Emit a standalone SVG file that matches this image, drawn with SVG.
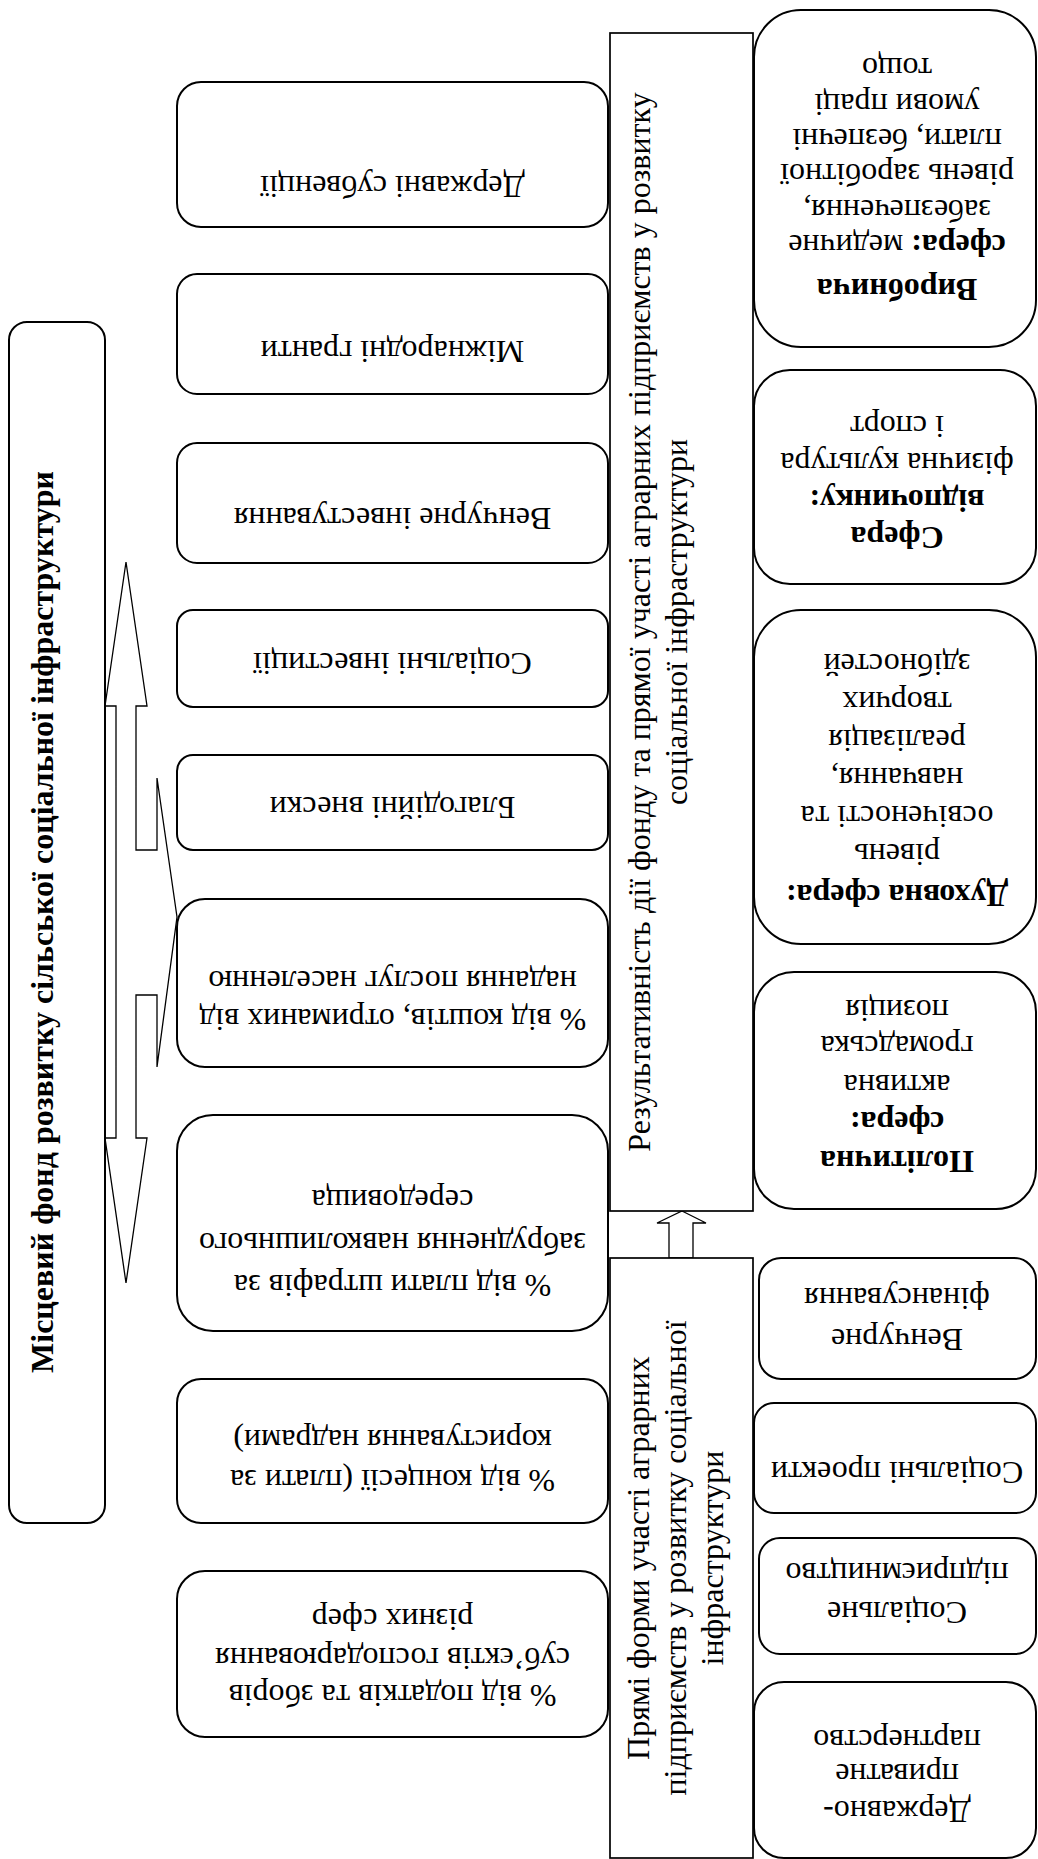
<svg xmlns="http://www.w3.org/2000/svg" width="1038" height="1859" viewBox="0 0 1038 1859">
<style>
.bg{fill:#fff}
.box{fill:#fff;stroke:#000;stroke-width:2}
.rect{fill:#fff;stroke:#000;stroke-width:1.7}
.arr{fill:#fff;stroke:#000;stroke-width:1.3;stroke-linejoin:miter}
text{font-family:'Liberation Serif','Times New Roman',serif;font-size:32px;fill:#000}
.c{text-anchor:middle}
.b{font-weight:bold}
</style>
<rect class="bg" x="0" y="0" width="1038" height="1859"/>

<g id="connectors">
<path class="arr" d="M126,562 L147,706 L136,706 L136,850 L157,850 L157,778 L177,917 L157,1067 L157,995 L136,995 L136,1138 L147,1138 L126,1283 L105,1138 L116,1138 L116,706 L105,706 Z"/>
<path class="arr" d="M682,1211 L706,1223 L693,1223 L693,1258 L669,1258 L669,1223 L657,1223 Z"/>
</g>

<g id="fund">
<rect class="box" x="9" y="322" width="96" height="1201" rx="18"/>
<text class="c b" transform="translate(53 922) rotate(-90)" x="0" y="0">Місцевий фонд розвитку  сільської соціальної інфраструктури</text>
</g>

<g id="n1"><rect class="box" x="177" y="82" width="431" height="145" rx="24"/>
<text class="c" transform="rotate(180 392.5 154.5)"><tspan x="392.5" y="133">Державні субвенції</tspan></text></g>
<g id="n2"><rect class="box" x="177" y="274" width="431" height="120" rx="20"/>
<text class="c" transform="rotate(180 392.5 334)"><tspan x="392.5" y="327">Міжнародні гранти</tspan></text></g>
<g id="n3"><rect class="box" x="177" y="443" width="431" height="120" rx="20"/>
<text class="c" transform="rotate(180 392.5 503)"><tspan x="392.5" y="498">Венчурне інвестування</tspan></text></g>
<g id="n4"><rect class="box" x="177" y="610" width="431" height="97" rx="16"/>
<text class="c" transform="rotate(180 392.5 658.5)"><tspan x="392.5" y="664">Соціальні інвестиції</tspan></text></g>
<g id="n5"><rect class="box" x="177" y="755" width="431" height="95" rx="16"/>
<text class="c" transform="rotate(180 392.5 802.5)"><tspan x="392.5" y="808">Благодійні внески</tspan></text></g>
<g id="n6"><rect class="box" x="177" y="899" width="431" height="168" rx="28"/>
<text class="c" transform="rotate(180 392.5 983)"><tspan x="392.5" y="957">% від коштів, отриманих від</tspan><tspan x="392.5" y="995">надання послуг населенню</tspan></text></g>
<g id="n7"><rect class="box" x="177" y="1115" width="431" height="216" rx="36"/>
<text class="c" transform="rotate(180 392.5 1223)"><tspan x="392.5" y="1171">% від плати штрафів за</tspan><tspan x="392.5" y="1213">забруднення навколишнього</tspan><tspan x="392.5" y="1256">середовища</tspan></text></g>
<g id="n8"><rect class="box" x="177" y="1379" width="431" height="144" rx="24"/>
<text class="c" transform="rotate(180 392.5 1451)"><tspan x="392.5" y="1432">% від концесії (плати за</tspan><tspan x="392.5" y="1472">користування надрами)</tspan></text></g>
<g id="n9"><rect class="box" x="177" y="1571" width="431" height="166" rx="28"/>
<text class="c" transform="rotate(180 392.5 1654)"><tspan x="392.5" y="1623">% від податків та зборів</tspan><tspan x="392.5" y="1660">суб’єктів господарювання</tspan><tspan x="392.5" y="1699">різних сфер</tspan></text></g>

<g id="result">
<rect class="rect" x="610" y="33" width="143" height="1178"/>
<text class="c" transform="translate(650 622) rotate(-90)"><tspan x="0" y="0">Результативність дії фонду та прямої участі аграрних підприємств у розвитку</tspan><tspan x="0" y="37">соціальної інфраструктури</tspan></text>
</g>
<g id="direct">
<rect class="rect" x="610" y="1258" width="143" height="600"/>
<text class="c" transform="translate(649 1558) rotate(-90)"><tspan x="0" y="0">Прямі форми участі аграрних</tspan><tspan x="0" y="37">підприємств у розвитку соціальної</tspan><tspan x="0" y="74">інфраструктури</tspan></text>
</g>

<g id="r1"><rect class="box" x="754" y="10" width="282" height="337" rx="47"/>
<text class="c" transform="rotate(180 897 178.5)"><tspan x="897" y="78" class="b">Виробнича</tspan><tspan x="897" y="122"><tspan class="b">сфера:</tspan> медичне</tspan><tspan x="897" y="157">забезпечення,</tspan><tspan x="897" y="193">рівень заробітної</tspan><tspan x="897" y="228">плати, безпечні</tspan><tspan x="897" y="263">умови праці</tspan><tspan x="897" y="299">тощо</tspan></text></g>
<g id="r2"><rect class="box" x="754" y="370" width="282" height="214" rx="36"/>
<text class="c" transform="rotate(180 897 477)"><tspan x="897" y="427" class="b">Сфера</tspan><tspan x="897" y="464" class="b">відпочинку:</tspan><tspan x="897" y="501">фізична культура</tspan><tspan x="897" y="538">і спорт</tspan></text></g>
<g id="r3"><rect class="box" x="754" y="610" width="282" height="334" rx="47"/>
<text class="c" transform="rotate(180 897 777)"><tspan x="897" y="669" class="b">Духовна сфера:</tspan><tspan x="897" y="710">рівень</tspan><tspan x="897" y="748">освіченості та</tspan><tspan x="897" y="786">навчання,</tspan><tspan x="897" y="824">реалізація</tspan><tspan x="897" y="862">творчих</tspan><tspan x="897" y="900">здібностей</tspan></text></g>
<g id="r4"><rect class="box" x="754" y="972" width="282" height="237" rx="40"/>
<text class="c" transform="rotate(180 897 1090.5)"><tspan x="897" y="1030" class="b">Політична</tspan><tspan x="897" y="1069" class="b">сфера:</tspan><tspan x="897" y="1106">активна</tspan><tspan x="897" y="1145">громадська</tspan><tspan x="897" y="1181">позиція</tspan></text></g>
<g id="r5"><rect class="box" x="759" y="1258" width="277" height="121" rx="22"/>
<text class="c" transform="rotate(180 897 1318.5)"><tspan x="897" y="1308">Венчурне</tspan><tspan x="897" y="1349">фінансування</tspan></text></g>
<g id="r6"><rect class="box" x="754" y="1403" width="282" height="110" rx="20"/>
<text class="c" transform="rotate(180 897 1458)"><tspan x="897" y="1454">Соціальні проекти</tspan></text></g>
<g id="r7"><rect class="box" x="759" y="1538" width="277" height="116" rx="21"/>
<text class="c" transform="rotate(180 897 1596)"><tspan x="897" y="1590">Соціальне</tspan><tspan x="897" y="1629">підприємництво</tspan></text></g>
<g id="r8"><rect class="box" x="754" y="1682" width="282" height="176" rx="30"/>
<text class="c" transform="rotate(180 897 1770)"><tspan x="897" y="1739">Державно-</tspan><tspan x="897" y="1776">приватне</tspan><tspan x="897" y="1810">партнерство</tspan></text></g>
</svg>
